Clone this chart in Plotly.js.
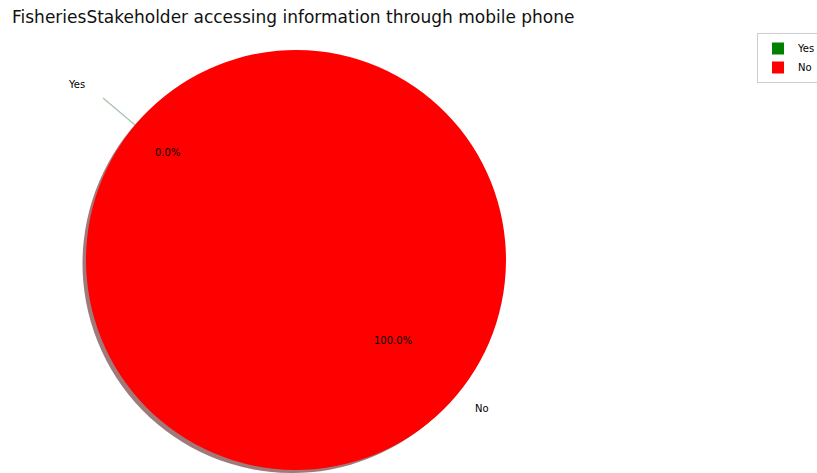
<!DOCTYPE html>
<html>
<head>
<meta charset="utf-8">
<script src="https://cdn.plot.ly/plotly-3.0.1.min.js"></script>
<style>html,body{margin:0;padding:0;background:#fff;}#chart{width:817px;height:473px;}</style>
</head>
<body>
<div id="chart"></div>
<script>
// ---- data ----
const labels = ['Yes', 'No'];
const values = [0, 100];
const colors = ['#008000', '#ff0000'];
const explode = [0.2, 0];
const startAngle = 140; // degrees, counterclockwise from 3 o'clock
const titleText = 'FisheriesStakeholder accessing information through mobile phone';

// ---- layout geometry ----
const W = 817, H = 473;
const cxPx = 296, cyPx = 260, rPx = 210;
const shadowDx = -4, shadowDy = 4;
const font = 'DejaVu Sans, sans-serif';

function dom(cx, cy) {
  return {
    x: [(cx - rPx) / W, (cx + rPx) / W],
    y: [1 - (cy + rPx) / H, 1 - (cy - rPx) / H]
  };
}

const shadowColor = 'rgb(160,122,122)';

const shadow = {
  type: 'pie', labels: labels, values: values, sort: false,
  direction: 'counterclockwise', rotation: 90 - startAngle,
  marker: {colors: labels.map(() => shadowColor), line: {width: 0}},
  textinfo: 'none', hoverinfo: 'skip', showlegend: false,
  domain: dom(cxPx + shadowDx, cyPx + shadowDy)
};
const main = {
  type: 'pie', labels: labels, values: values, sort: false,
  direction: 'counterclockwise', rotation: 90 - startAngle,
  marker: {colors: colors, line: {width: 0}},
  textinfo: 'none', hoverinfo: 'skip', showlegend: true,
  domain: dom(cxPx, cyPx)
};

// ---- labels computed from data ----
const total = values.reduce((a, b) => a + b, 0);
const annotations = [];
const shapes = [];
let theta = startAngle;
function toPaper(d, ang, off) {
  const a = ang * Math.PI / 180;
  const dd = (d + off) * rPx;
  return {x: (cxPx + dd * Math.cos(a)) / W, y: 1 - (cyPx - dd * Math.sin(a)) / H, c: Math.cos(a)};
}
values.forEach((v, i) => {
  const frac = v / total;
  const mid = theta + frac * 360 / 2;
  const off = explode[i];
  const lp = toPaper(1.1, mid, off);
  annotations.push({
    xref: 'paper', yref: 'paper', x: lp.x, y: lp.y, text: labels[i], showarrow: false,
    xanchor: lp.c < 0 ? 'right' : 'left', yanchor: 'middle',
    font: {family: font, size: 10, color: '#000'}
  });
  const pp = toPaper(0.6, mid, off);
  annotations.push({
    xref: 'paper', yref: 'paper', x: pp.x, y: pp.y, text: (frac * 100).toFixed(1) + '%', showarrow: false,
    xanchor: 'center', yanchor: 'middle',
    font: {family: font, size: 10, color: '#000'}
  });
  if (v === 0) {
    // zero-width exploded wedge shows as a thin line beyond the circle
    const p0 = toPaper(1.0 - off, mid, off);
    const p1 = toPaper(1.0, mid, off);
    shapes.push({type: 'line', xref: 'paper', yref: 'paper', x0: p0.x, y0: p0.y, x1: p1.x, y1: p1.y,
      line: {color: 'rgba(110,150,110,0.6)', width: 1.2}});
  }
  theta += frac * 360;
});

const layout = {
  width: W, height: H,
  margin: {l: 0, r: 0, t: 0, b: 0, autoexpand: false},
  paper_bgcolor: '#fff',
  title: {text: titleText, font: {family: font, size: 17, color: '#111'},
    xref: 'container', yref: 'container', x: 12 / W, xanchor: 'left', y: 1 - 17 / H, yanchor: 'middle'},
  showlegend: true,
  legend: {x: 757 / W, xanchor: 'left', y: 1 - 33 / H, yanchor: 'top',
    bgcolor: '#fff', bordercolor: '#cccccc', borderwidth: 1,
    font: {family: font, size: 10, color: '#000'}, tracegroupgap: 0, itemwidth: 30},
  annotations: annotations,
  shapes: shapes
};

Plotly.newPlot('chart', [shadow, main], layout, {displayModeBar: false, staticPlot: true});
</script>
</body>
</html>
